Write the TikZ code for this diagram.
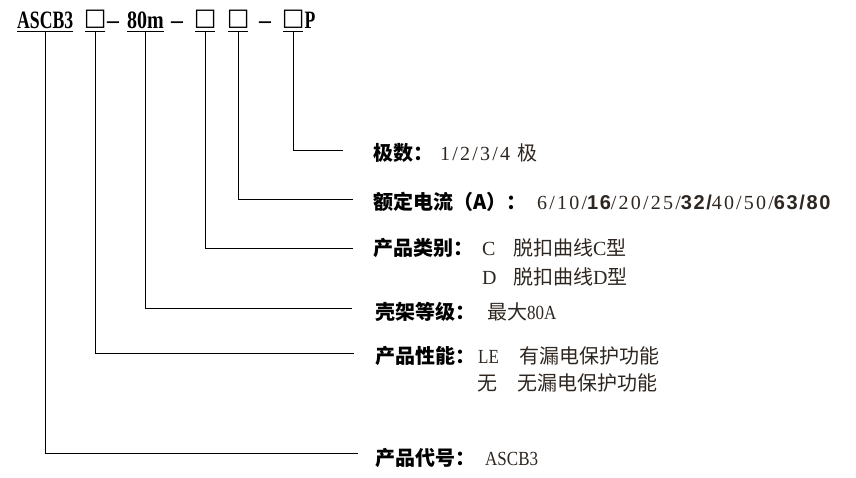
\documentclass[tikz,border=0pt]{standalone}
\usepackage{fontspec}
\setmainfont{Liberation Serif}
\newfontfamily\cjk{Noto Sans CJK SC}
\newfontfamily\valfont{Liberation Serif}
\newfontfamily\valwide[LetterSpace=11]{Liberation Serif}
\newfontfamily\valbold[LetterSpace=8]{Liberation Sans}
\newfontfamily\boxfont{DejaVu Sans}
\definecolor{valc}{HTML}{2E2620}
\tikzset{
  code/.style={anchor=base west, inner xsep=0pt, inner ysep=3pt, text depth=0pt,
    font=\fontsize{25}{25}\selectfont\bfseries},
  boxc/.style={anchor=base west, inner xsep=0pt, inner ysep=3pt, text depth=0pt,
    font=\boxfont\fontsize{24}{24}\selectfont},
  lab/.style={anchor=base west, inner sep=0pt, font=\cjk\bfseries\fontsize{20}{20}\selectfont},
  val/.style={anchor=base west, inner sep=0pt, text=valc, font=\valfont\fontsize{20}{20}\selectfont},
  valw/.style={val, font=\valwide\fontsize{20}{20}\selectfont},
  conn/.style={line width=1pt, black},
  uline/.style={line width=1pt, black},
}
\newcommand{\cn}[1]{{\cjk #1}}
\newcommand{\bd}[1]{{\valbold\bfseries #1}}
\newcommand{\nar}[1]{\scalebox{0.85}[1]{#1}}
\newcommand{\bx}{\makebox[20pt][c]{\raisebox{2.5pt}{□}}}
\begin{document}
\begin{tikzpicture}[x=1pt,y=-1pt]
\useasboundingbox (0,0) rectangle (856,477);
% top code
\node[code] (s1) at (17,28) {\scalebox{0.707}[1]{ASCB3}};
\node[boxc] (s2) at (85,28) {\bx};
\node[code] (d1) at (s2.base east) [anchor=base west, xshift=1.5pt] {\scalebox{0.95}[1]{–}};
\node[code] (s3) at (127,28) {\scalebox{0.8}[1]{80m}};
\node[code] (d2) at (171,28) {\scalebox{0.95}[1]{–}};
\node[boxc] (s4) at (195,28) {\bx};
\node[boxc] (s5) at (228,28) {\bx};
\node[code] (d3) at (259,28) {\scalebox{0.95}[1]{–}};
\node[boxc] (s6) at (283,28) {\bx};
\node[code] (pp) at (s6.base east) [anchor=base west, xshift=1pt] {\scalebox{0.707}[1]{P}};
\foreach \s in {s1,s2,s3,s4,s5,s6} \draw[uline] (\s.south west) -- (\s.south east);
% labels
\node[lab] (l1) at (373,160) {极数：};
\node[valw] (v1) at (440,160) {1/2/3/4 \cn{极}};
\node[lab] (l2) at (373,209) {额定电流（A）：};
\node[valw] (v2) at (537,209) {6/10/\bd{16}/20/25/\bd{32/}40/50/\bd{63/80}};
\node[lab] (l3) at (373,255) {产品类别：};
\node[val] (v3) at (482,255) {C};
\node[val] (v3b) at (513,255) {\cn{脱扣曲线}C\cn{型}};
\node[val] (v3c) at (482,284) {D};
\node[val] (v3d) at (513,284) {\cn{脱扣曲线}D\cn{型}};
\node[lab] (l4) at (375,319) {壳架等级：};
\node[val] (v4) at (487,319) {\cn{最大}\nar{80A}};
\node[lab] (l5) at (375,363) {产品性能：};
\node[val] (v5) at (478,363) {\nar{LE}};
\node[val] (v5b) at (519,363) {\cn{有漏电保护功能}};
\node[val] (v5c) at (477,390) {\cn{无}};
\node[val] (v5d) at (517,390) {\cn{无漏电保护功能}};
\node[lab] (l6) at (375,465) {产品代号：};
\node[val] (v6) at (485,465) {\nar{ASCB3}};
% connector ends
\coordinate (e1) at (343,150.5);
\coordinate (e2) at (353,199);
\coordinate (e3) at (353,248);
\coordinate (e4) at (352,308.5);
\coordinate (e5) at (354,353.5);
\coordinate (e6) at (358,453);
\draw[conn] (s6.south) |- (e1);
\draw[conn] (s5.south) |- (e2);
\draw[conn] (s4.south) |- (e3);
\draw[conn] (s3.south) |- (e4);
\draw[conn] (s2.south) |- (e5);
\draw[conn] (s1.south) |- (e6);
\end{tikzpicture}
\end{document}
